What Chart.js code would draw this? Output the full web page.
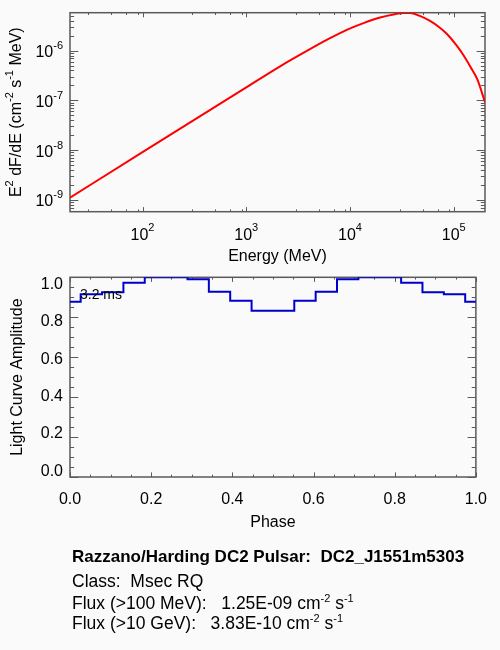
<!DOCTYPE html>
<html>
<head>
<meta charset="utf-8">
<script src="https://cdn.jsdelivr.net/npm/chart.js@4.4.0/dist/chart.umd.min.js"></script>
<style>
  html, body { margin: 0; padding: 0; background: #fafafa; }
  body { width: 500px; height: 650px; position: relative; overflow: hidden;
         font-family: "Liberation Sans", Arial, sans-serif; color: #000; }
  canvas { position: absolute; left: 0; }
  #spec { top: 0; }
  #light { top: 260px; }
  .info { position: absolute; left: 72px; font-size: 17.5px; line-height: 20px; white-space: pre; }
  .info sup { font-size: 11px; line-height: 0; vertical-align: baseline; position: relative; top: -7px; }
</style>
</head>
<body>
<canvas id="spec" width="500" height="270"></canvas>
<canvas id="light" width="500" height="280"></canvas>
<div class="info" style="top:546.8px; font-size:17px; font-weight:bold">Razzano/Harding DC2 Pulsar:  DC2_J1551m5303</div>
<div class="info" style="top:570.6px">Class:  Msec RQ</div>
<div class="info" style="top:593.4px">Flux (&gt;100 MeV):   1.25E-09 cm<sup>-2</sup> s<sup>-1</sup></div>
<div class="info" style="top:613px">Flux (&gt;10 GeV):   3.83E-10 cm<sup>-2</sup> s<sup>-1</sup></div>
<script>
// spectrum (top panel)
const energy = [20, 100, 1000, 2100, 4400, 6400, 9300, 13500, 19500, 27000, 33000, 38000,
                47000, 59000, 72000, 86000, 105000, 125000, 145000, 168000, 200000];
const e2dfde = [1.11e-9, 9.1e-9, 1.83e-7, 4.8e-7, 1.16e-6, 1.78e-6, 2.63e-6, 3.59e-6, 4.63e-6, 5.4e-6, 5.75e-6, 5.75e-6,
                5.0e-6, 3.98e-6, 3.0e-6, 2.16e-6, 1.32e-6, 7.9e-7, 4.7e-7, 2.7e-7, 9.2e-8];

// light curve (bottom panel), bin edges and one amplitude per bin
const phaseEdges = [0, 0.0263, 0.0789, 0.1316, 0.1842, 0.2368, 0.2895, 0.3421, 0.3947, 0.4474, 0.5,
                    0.5526, 0.6053, 0.6579, 0.7105, 0.7632, 0.8158, 0.8684, 0.9211, 0.9737, 1.0];
const amplitude = [0.877, 0.915, 0.925, 0.973, 1.0, 1.0, 0.99, 0.928, 0.883, 0.832,
                   0.832, 0.883, 0.928, 0.99, 1.0, 1.0, 0.973, 0.925, 0.915, 0.877];

// tick values
const energyMajor = [1e2, 1e3, 1e4, 1e5];
const energyMinorMant = [3, 5, 7, 9];
const fluxMajor = [1e-9, 1e-8, 1e-7, 1e-6];
const fluxMinorMant = [2, 3, 4, 5, 6, 7, 8, 9];
const phaseMajor = [0, 0.2, 0.4, 0.6, 0.8, 1.0];
const ampMajor = [0, 0.2, 0.4, 0.6, 0.8, 1.0];

const FONT = '"Liberation Sans", Arial, sans-serif';
const AXIS = '#5a5a5a';

function logMinors(mant, lo, hi) {
    var out = [];
    for (var d = Math.floor(Math.log10(lo)) - 1; d <= Math.ceil(Math.log10(hi)); d++) {
        mant.forEach(function(m) {
            var v = m * Math.pow(10, d);
            if (v > lo && v < hi) out.push(v);
        });
    }
    return out;
}

function linMinors(step, lo, hi) {
    var out = [];
    for (var i = 1; lo + i * step < hi - 1e-9; i++) out.push(+(lo + i * step).toFixed(4));
    return out;
}

function drawRich(ctx, parts, x, y, align, base, sup, rise) {
    var w = parts.map(function(p) { ctx.font = p[1] ? sup : base; return ctx.measureText(p[0]).width; });
    var total = w.reduce(function(a, b) { return a + b; }, 0);
    var cx = align === 'right' ? x - total : (align === 'center' ? x - total / 2 : x);
    ctx.textAlign = 'left';
    ctx.textBaseline = 'alphabetic';
    parts.forEach(function(p, i) {
        ctx.font = p[1] ? sup : base;
        ctx.fillText(p[0], cx, p[1] ? y - rise : y);
        cx += w[i];
    });
}

// box with inward ticks on all four sides (IDL style)
function makeFrame(xMajor, xMinor, yMajor, yMinor, xLen, yLen) {
    return {
        id: 'frame',
        beforeDatasetsDraw(chart) {
            var ctx = chart.ctx, a = chart.chartArea;
            var xs = chart.scales.x, ys = chart.scales.y;
            ctx.save();
            ctx.strokeStyle = AXIS;
            ctx.lineWidth = 1.5;
            ctx.strokeRect(a.left, a.top, a.right - a.left, a.bottom - a.top);
            ctx.lineWidth = 1;
            ctx.beginPath();
            [[xMajor, xLen], [xMinor, xLen / 2]].forEach(function(set) {
                set[0].forEach(function(v) {
                    var px = Math.round(xs.getPixelForValue(v)) + 0.5;
                    ctx.moveTo(px, a.bottom); ctx.lineTo(px, a.bottom - set[1]);
                    ctx.moveTo(px, a.top); ctx.lineTo(px, a.top + set[1]);
                });
            });
            [[yMajor, yLen], [yMinor, yLen / 2]].forEach(function(set) {
                set[0].forEach(function(v) {
                    var py = Math.round(ys.getPixelForValue(v)) + 0.5;
                    ctx.moveTo(a.left, py); ctx.lineTo(a.left + set[1], py);
                    ctx.moveTo(a.right, py); ctx.lineTo(a.right - set[1], py);
                });
            });
            ctx.stroke();
            ctx.restore();
        }
    };
}

// decade labels with superscripts and the rotated y title of the spectrum
const specLabels = {
    id: 'specLabels',
    afterDraw(chart) {
        var ctx = chart.ctx, a = chart.chartArea;
        var xs = chart.scales.x, ys = chart.scales.y;
        var base = '16px ' + FONT, sup = '11px ' + FONT;
        ctx.save();
        ctx.fillStyle = '#000';
        energyMajor.forEach(function(v) {
            var e = Math.round(Math.log10(v));
            drawRich(ctx, [['10', 0], [String(e), 1]], xs.getPixelForValue(v), a.bottom + 28, 'center', base, sup, 9);
        });
        fluxMajor.forEach(function(v) {
            var e = Math.round(Math.log10(v));
            drawRich(ctx, [['10', 0], [String(e), 1]], a.left - 7, ys.getPixelForValue(v) + 6.5, 'right', base, sup, 8);
        });
        ctx.translate(20.7, (a.top + a.bottom) / 2);
        ctx.rotate(-Math.PI / 2);
        drawRich(ctx, [['E', 0], ['2', 1], [' dF/dE (cm', 0], ['-2', 1], [' s', 0], ['-1', 1], [' MeV)', 0]],
                 0, 0, 'center', base, sup, 8);
        ctx.restore();
    }
};

const periodLabel = {
    id: 'periodLabel',
    afterDraw(chart) {
        var ctx = chart.ctx, a = chart.chartArea;
        ctx.save();
        ctx.fillStyle = '#000';
        ctx.font = '14px ' + FONT;
        ctx.textAlign = 'left';
        ctx.textBaseline = 'alphabetic';
        ctx.fillText('3.2 ms', a.left + 10, a.top + 22);
        ctx.restore();
    }
};

const noAxis = { grid: { display: false, drawTicks: false }, border: { display: false } };
const tickFont = { size: 16, family: FONT };

const specXMin = 20, specXMax = 2e5, specYMin = 5.8e-10, specYMax = 5.8e-6;

new Chart(document.getElementById('spec'), {
    type: 'line',
    data: {
        datasets: [{
            data: energy.map(function(e, i) { return { x: e, y: e2dfde[i] }; }),
            borderColor: '#ff0000',
            borderWidth: 2,
            pointRadius: 0,
            cubicInterpolationMode: 'monotone'
        }]
    },
    options: {
        responsive: false,
        animation: false,
        events: [],
        layout: { padding: { top: 12.7, right: 15, left: 0, bottom: 0 } },
        plugins: { legend: { display: false }, tooltip: { enabled: false } },
        scales: {
            x: Object.assign({
                type: 'logarithmic', min: specXMin, max: specXMax,
                ticks: { display: false },
                title: { display: true, text: 'Energy (MeV)', color: '#000', font: tickFont, padding: { top: 0, bottom: 4 } },
                afterFit: function(s) { s.height = 58.3; }
            }, noAxis),
            y: Object.assign({
                type: 'logarithmic', min: specYMin, max: specYMax,
                ticks: { display: false },
                afterFit: function(s) { s.width = 70; }
            }, noAxis)
        }
    },
    plugins: [
        makeFrame(energyMajor, logMinors(energyMinorMant, specXMin, specXMax),
                  fluxMajor, logMinors(fluxMinorMant, specYMin, specYMax), 4.6, 8.3),
        specLabels
    ]
});

new Chart(document.getElementById('light'), {
    type: 'line',
    data: {
        datasets: [{
            data: phaseEdges.map(function(p, i) { return { x: p, y: amplitude[Math.min(i, amplitude.length - 1)] }; }),
            borderColor: '#0000cc',
            borderWidth: 2,
            pointRadius: 0,
            stepped: true,
            yAxisID: 'y'
        }]
    },
    options: {
        responsive: false,
        animation: false,
        events: [],
        layout: { padding: { top: 17.3, right: 15, left: 0, bottom: 0 } },
        plugins: { legend: { display: false }, tooltip: { enabled: false } },
        scales: {
            x: Object.assign({
                type: 'linear', min: 0, max: 1,
                ticks: { stepSize: 0.2, padding: 13, color: '#000', font: tickFont, autoSkip: false, maxRotation: 0,
                         includeBounds: false, callback: function(v) { return v.toFixed(1); } },
                title: { display: true, text: 'Phase', color: '#000', font: tickFont, padding: { top: 0, bottom: 8 } },
                afterFit: function(s) { s.height = 63; }
            }, noAxis),
            y: Object.assign({
                type: 'linear', position: 'left', min: 0, max: 1, weight: 0,
                ticks: { display: false },
                afterFit: function(s) { s.width = 0; }
            }, noAxis),
            // label axis, IDL wrote the amplitude labels on a slightly wider range
            yl: Object.assign({
                type: 'linear', position: 'left', min: -0.03, max: 1.04, weight: 1,
                ticks: { stepSize: 0.2, padding: 7, color: '#000', font: tickFont, autoSkip: false,
                         includeBounds: false, callback: function(v) { return Math.abs(v).toFixed(1); } },
                title: { display: true, text: 'Light Curve Amplitude', color: '#000', font: tickFont, padding: { top: 8, bottom: 0 } },
                afterFit: function(s) { s.width = 70; }
            }, noAxis)
        }
    },
    plugins: [
        makeFrame(phaseMajor, linMinors(0.05, 0, 1).filter(function(v) { return phaseMajor.indexOf(v) < 0; }),
                  ampMajor, linMinors(0.05, 0, 1).filter(function(v) { return ampMajor.indexOf(v) < 0; }), 4.6, 8.3),
        periodLabel
    ]
});
</script>
</body>
</html>
